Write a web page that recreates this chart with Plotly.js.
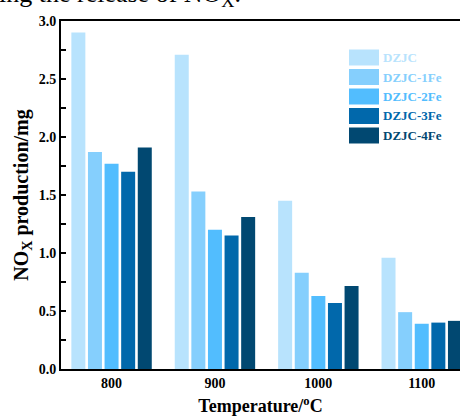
<!DOCTYPE html>
<html>
<head>
<meta charset="utf-8">
<script src="https://cdn.plot.ly/plotly-3.0.1.min.js"></script>
<style>html,body{margin:0;padding:0;background:#fff;}#chart{width:460px;height:417px;}</style>
</head>
<body>
<div id="chart"></div>
<script>
const categories = ['800', '900', '1000', '1100'];
const seriesNames = ['DZJC', 'DZJC-1Fe', 'DZJC-2Fe', 'DZJC-3Fe', 'DZJC-4Fe'];
const dzjc   = [2.90, 2.71, 1.45, 0.96];
const dzjc1Fe = [1.87, 1.53, 0.83, 0.49];
const dzjc2Fe = [1.77, 1.20, 0.63, 0.39];
const dzjc3Fe = [1.70, 1.15, 0.57, 0.40];
const dzjc4Fe = [1.91, 1.31, 0.715, 0.415];
const seriesValues = [dzjc, dzjc1Fe, dzjc2Fe, dzjc3Fe, dzjc4Fe];
const colors = ['#b8e3fd', '#85cffd', '#52bdfe', '#0168ab', '#014871'];

const FONT = 'Liberation Serif, Times New Roman, serif';
const traces = seriesNames.map((n, i) => ({
  type: 'bar', name: n, x: categories, y: seriesValues[i],
  marker: {color: colors[i], line: {width: 0}}, showlegend: false
}));

// plot area geometry (pixels) for the hand-built legend
const L = 61, T = 21, W = 399, H = 348;
const shapes = [], annotations = [];
seriesNames.forEach((n, i) => {
  const cy = 57.5 + i * 19.5;
  shapes.push({type: 'rect', xref: 'paper', yref: 'paper',
    x0: (349 - L) / W, x1: (379 - L) / W,
    y0: (T + H - (cy - 8)) / H, y1: (T + H - (cy + 8)) / H,
    fillcolor: colors[i], line: {width: 0}});
  annotations.push({xref: 'paper', yref: 'paper', x: (381 - L) / W, y: (T + H - cy) / H,
    xanchor: 'left', yanchor: 'middle', showarrow: false, text: '<b>' + n + '</b>',
    font: {family: FONT, size: 13, color: colors[i]}});
});
annotations.push({xref: 'paper', yref: 'paper', x: (-3 - L) / W, y: (T + H - 13) / H,
  xanchor: 'left', yanchor: 'bottom', showarrow: false,
  text: 'ing the release of NO<sub>X</sub>.', font: {family: FONT, size: 26, color: '#000'}});

const layout = {
  width: 460, height: 417,
  margin: {l: L, r: 0, t: T, b: 417 - T - H, pad: 0},
  paper_bgcolor: '#fff', plot_bgcolor: '#fff',
  barmode: 'group', bargap: 0.197, bargroupgap: 0.157,
  font: {family: FONT, color: '#000'},
  xaxis: {type: 'category', range: [-0.489, 3.37], showline: true, linecolor: '#000', linewidth: 2,
    mirror: true, ticks: '', showgrid: false, zeroline: false,
    tickfont: {family: FONT, size: 14, color: '#000', weight: 'bold'},
    title: {text: '<b>Temperature/<sup>o</sup>C</b>', font: {family: FONT, size: 18, color: '#000'}, standoff: 10}},
  yaxis: {range: [0, 3.0], dtick: 0.5, tickformat: '.1f', showline: true, linecolor: '#000', linewidth: 2,
    ticks: 'inside', ticklen: 5, tickwidth: 1.5, tickcolor: '#000', showgrid: false, zeroline: false,
    minor: {dtick: 0.25, ticks: 'inside', ticklen: 5, tickwidth: 1.5, tickcolor: '#000', showgrid: false},
    tickfont: {family: FONT, size: 14, color: '#000', weight: 'bold'},
    title: {text: '<b>NO<sub>X</sub> production/mg</b>', font: {family: FONT, size: 20, color: '#000'}, standoff: 5}},
  shapes: shapes, annotations: annotations, showlegend: false
};
Plotly.newPlot('chart', traces, layout, {staticPlot: true, displayModeBar: false});
</script>
</body>
</html>
